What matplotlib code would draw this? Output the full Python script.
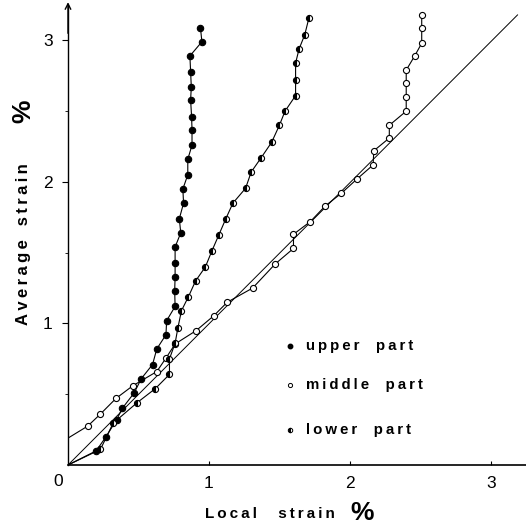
import matplotlib
matplotlib.use("Agg")
import matplotlib.pyplot as plt

plt.rcParams['font.family'] = ['Liberation Sans', 'DejaVu Sans']

# ---- data (local strain %, average strain %) ----
upper_x = [0.0, 0.20, 0.27, 0.345, 0.385, 0.47, 0.52, 0.60, 0.63, 0.695, 0.70, 0.76, 0.757,
           0.76, 0.76, 0.76, 0.80, 0.79, 0.82, 0.815, 0.85, 0.85, 0.88, 0.88, 0.877, 0.87,
           0.875, 0.87, 0.865, 0.95, 0.94]
upper_y = [0.0, 0.10, 0.20, 0.32, 0.40, 0.51, 0.61, 0.71, 0.82, 0.92, 1.02, 1.12, 1.23,
           1.33, 1.43, 1.54, 1.64, 1.74, 1.85, 1.95, 2.05, 2.16, 2.26, 2.37, 2.46, 2.58,
           2.67, 2.78, 2.89, 2.99, 3.09]

middle_x = [0.0, 0.14, 0.23, 0.34, 0.46, 0.63, 0.695, 0.76, 0.91, 1.035, 1.13, 1.31, 1.47,
            1.60, 1.60, 1.72, 1.825, 1.94, 2.05, 2.165, 2.17, 2.28, 2.28, 2.40, 2.40, 2.40,
            2.40, 2.46, 2.51, 2.51, 2.51]
middle_y = [0.19, 0.275, 0.36, 0.47, 0.56, 0.66, 0.755, 0.855, 0.95, 1.055, 1.15, 1.25, 1.42,
            1.53, 1.63, 1.72, 1.83, 1.92, 2.02, 2.12, 2.22, 2.31, 2.40, 2.50, 2.60, 2.70,
            2.79, 2.89, 2.98, 3.09, 3.18]

lower_x = [0.0, 0.23, 0.32, 0.49, 0.62, 0.72, 0.72, 0.76, 0.78, 0.805, 0.855, 0.905, 0.975,
           1.02, 1.07, 1.12, 1.17, 1.26, 1.30, 1.37, 1.445, 1.50, 1.54, 1.615, 1.615, 1.615,
           1.64, 1.68, 1.71]
lower_y = [0.0, 0.11, 0.295, 0.44, 0.54, 0.64, 0.75, 0.86, 0.97, 1.09, 1.19, 1.30, 1.40,
           1.51, 1.625, 1.74, 1.85, 1.955, 2.07, 2.17, 2.28, 2.40, 2.50, 2.61, 2.72, 2.84,
           2.94, 3.04, 3.16]

ref_x = [0.0, 3.19]
ref_y = [0.0, 3.18]

legend_labels = ["upper   part", "middle   part", "lower   part"]
x_ticks = [1, 2, 3]
y_ticks = [1, 2, 3]
y_minor = [0.5, 1.5, 2.5]


def spaced(s, sep="\u2009"):
    return sep.join(s)


fig = plt.figure(figsize=(5.26, 5.28), dpi=100)
ax = fig.add_axes([68 / 526, 63 / 528, 458 / 526, 460 / 528])
ax.set_xlim(0, 3.25)
ax.set_ylim(0, 3.25)

lw = 0.8
ax.plot(ref_x, ref_y, color='black', lw=0.7)
ax.plot(upper_x, upper_y, color='black', lw=lw, marker='o', ms=4.6,
        mfc='black', mec='black', mew=0.8, markevery=list(range(1, len(upper_x))))
ax.plot(middle_x, middle_y, color='black', lw=lw, marker='o', ms=4.4,
        mfc='white', mec='black', mew=0.8, markevery=list(range(1, len(middle_x))))
ax.plot(lower_x, lower_y, color='black', lw=lw, marker='o', ms=4.4,
        mfc='black', mfcalt='white', fillstyle='left', mec='black', mew=0.8,
        markevery=list(range(1, len(lower_x))))

# legend (manual, inside the axes)
leg_y = [0.84, 0.565, 0.25]
ax.plot([1.575], [leg_y[0]], marker='o', ms=3.2, mfc='black', mec='black', ls='none')
ax.plot([1.575], [leg_y[1]], marker='o', ms=3.0, mfc='white', mec='black', mew=0.7, ls='none')
ax.plot([1.575], [leg_y[2]], marker='o', ms=3.2, mfc='black', mfcalt='white',
        fillstyle='left', mec='black', mew=0.7, ls='none')
for lab, yy in zip(legend_labels, leg_y):
    txt = "    ".join(spaced(w) for w in lab.split())
    ax.text(1.69, yy, txt, fontsize=10.8, fontweight='bold', va='center', ha='left')

# spines
for s in ['top', 'right']:
    ax.spines[s].set_visible(False)
ax.spines['left'].set_linewidth(1.0)
ax.spines['bottom'].set_linewidth(1.2)
ax.annotate('', xy=(0, 3.27), xytext=(0, 3.05), xycoords='data',
            arrowprops=dict(arrowstyle='->', lw=1.0, color='black',
                            shrinkA=0, shrinkB=0, mutation_scale=10),
            annotation_clip=False)

ax.set_xticks(x_ticks)
ax.set_xticklabels([str(t) for t in x_ticks])
ax.set_yticks(y_ticks)
ax.set_yticklabels([str(t) for t in y_ticks])
ax.set_yticks(y_minor, minor=True)
ax.tick_params(axis='x', direction='in', length=3, width=0.8, pad=8, labelsize=12.5)
ax.tick_params(axis='y', direction='out', length=4, width=0.8, pad=7, labelsize=12.5)
ax.tick_params(axis='y', which='minor', direction='out', length=2, width=0.6)

# origin label
fig.text(58 / 526, (528 - 482) / 528, "0", fontsize=12.5, ha='center', va='center')

# axis labels
fig.text(205 / 526, (528 - 518) / 528, spaced("Local") + "     " + spaced("strain"),
         fontsize=11, fontweight='bold', ha='left', va='baseline')
fig.text(350 / 526, (528 - 520) / 528, "%", fontsize=19, fontweight='bold',
         ha='left', va='baseline')
fig.text(28 / 526, (528 - 325) / 528,
         spaced("Average") + "   " + spaced("strain"),
         fontsize=12, fontweight='bold', rotation=90, rotation_mode='anchor',
         ha='left', va='baseline')
fig.text(30 / 526, (528 - 123) / 528, "%", fontsize=19, fontweight='bold',
         rotation=90, rotation_mode='anchor', ha='left', va='baseline')

fig.savefig("out.png", dpi=100)
